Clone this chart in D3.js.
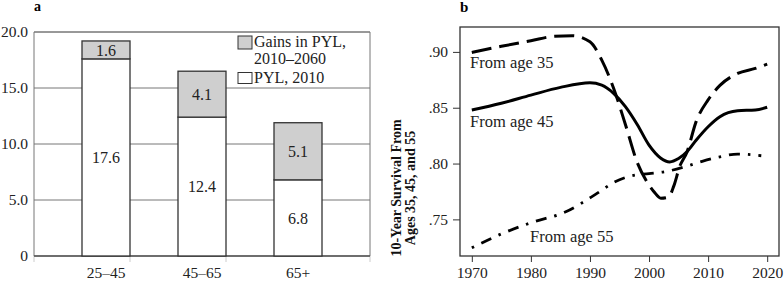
<!DOCTYPE html>
<html>
<head>
<meta charset="utf-8">
<script src="https://cdn.jsdelivr.net/npm/d3@7"></script>
<style>
  body { margin: 0; background: #fff; }
  svg { display: block; font-family: "Liberation Serif", "DejaVu Serif", serif; }
</style>
</head>
<body>
<div id="chart"></div>
<script>
(() => {
const width = 784, height = 281;

// panel a data
const categories = ["25–45", "45–65", "65+"];
const pyl2010 = [17.6, 12.4, 6.8];
const gains = [1.6, 4.1, 5.1];
const barTicks = [0, 5, 10, 15, 20];
const barTickLabels = ["0", "5.0", "10.0", "15.0", "20.0"];
const legendLabels = [["Gains in PYL,", "2010–2060"], ["PYL, 2010"]];

// panel b data
const years35 = [1970, 1975, 1980, 1984, 1987, 1990, 1992, 1994, 1996, 1998, 1999.6, 2000.8, 2002, 2003.3, 2004.2, 2005.2, 2006.4, 2008, 2010, 2012, 2015, 2018, 2020];
const age35 = [.8995, .905, .910, .914, .9145, .909, .8926, .8675, .835, .801, .784, .775, .769, .770, .780, .7975, .810, .838, .857, .870, .8807, .8852, .889];
const years45 = [1970, 1975, 1980, 1985, 1990, 1992, 1994, 1996, 1998, 2000, 2002, 2003.5, 2005, 2006.5, 2008, 2010, 2012, 2015, 2018, 2020];
const age45 = [.848, .854, .8613, .8682, .8723, .8702, .8629, .851, .835, .8165, .8048, .8015, .8045, .811, .8211, .833, .842, .8473, .848, .8504];
const years55 = [1970, 1975, 1980, 1986, 1991, 1994, 1997, 2000, 2003, 2006, 2009, 2012, 2015, 2019];
const age55 = [.7245, .737, .747, .757, .7726, .783, .789, .791, .793, .797, .802, .806, .8085, .807];
const yearTicks = [1970, 1980, 1990, 2000, 2010, 2020];
const survTicks = [.75, .80, .85, .90];
const lineLabels = ["From age 35", "From age 45", "From age 55"];

const svg = d3.select("#chart").append("svg")
    .attr("width", width).attr("height", height);

// ---------- panel a ----------
const ma = {left: 34, right: 370, top: 32, bottom: 256};
const xa = d3.scaleBand().domain(categories).range([ma.left, ma.right]).padding(0.5);
const ya = d3.scaleLinear().domain([0, 20]).range([ma.bottom, ma.top]);

svg.append("text").attr("x", 34).attr("y", 11)
    .attr("font-weight", "bold").attr("font-size", 14).text("a");

// gridlines
svg.append("g").selectAll("line").data(barTicks).join("line")
    .attr("x1", ma.left).attr("x2", ma.right)
    .attr("y1", d => ya(d)).attr("y2", d => ya(d))
    .attr("stroke", "#777").attr("stroke-width", 1);

// frame
svg.append("path")
    .attr("d", `M${ma.left},${ma.bottom}V${ma.top}H${ma.right}V${ma.bottom}`)
    .attr("fill", "none").attr("stroke", "#777");

// faint ticks at band boundaries
const bounds = [ma.left, ma.left + xa.step(), ma.left + 2 * xa.step(), ma.right];
svg.append("g").selectAll("line").data(bounds).join("line")
    .attr("x1", d => d).attr("x2", d => d)
    .attr("y1", ma.bottom).attr("y2", ma.bottom + 6)
    .attr("stroke", "#ccc");

svg.append("line").attr("x1", ma.left).attr("x2", ma.right)
    .attr("y1", ma.bottom).attr("y2", ma.bottom)
    .attr("stroke", "#555").attr("stroke-width", 1.5);

svg.append("g").selectAll("text").data(barTicks).join("text")
    .attr("x", 28).attr("y", d => ya(d)).attr("dy", "0.33em")
    .attr("text-anchor", "end").attr("font-size", 15.5).attr("fill", "#222")
    .text((d, i) => barTickLabels[i]);

svg.append("g").selectAll("text").data(categories).join("text")
    .attr("x", d => xa(d) + xa.bandwidth() / 2).attr("y", 278)
    .attr("text-anchor", "middle").attr("font-size", 15.5).attr("fill", "#222")
    .text(d => d);

const bars = svg.append("g");
categories.forEach((c, i) => {
  const x = xa(c), w = xa.bandwidth();
  bars.append("rect").attr("x", x).attr("width", w)
      .attr("y", ya(pyl2010[i])).attr("height", ya(0) - ya(pyl2010[i]))
      .attr("fill", "#fff").attr("stroke", "#333").attr("stroke-width", 1.3);
  bars.append("rect").attr("x", x).attr("width", w)
      .attr("y", ya(pyl2010[i] + gains[i])).attr("height", ya(0) - ya(gains[i]))
      .attr("fill", "#cfcfcf").attr("stroke", "#333").attr("stroke-width", 1.3);
  bars.append("text").attr("x", x + w / 2).attr("y", ya(pyl2010[i] / 2)).attr("dy", "0.35em")
      .attr("text-anchor", "middle").attr("font-size", 16).attr("fill", "#222")
      .text(pyl2010[i].toFixed(1));
  bars.append("text").attr("x", x + w / 2).attr("y", ya(pyl2010[i] + gains[i] / 2)).attr("dy", "0.35em")
      .attr("text-anchor", "middle").attr("font-size", 16).attr("fill", "#222")
      .text(gains[i].toFixed(1));
});

// legend
const legend = svg.append("g").attr("transform", "translate(238,36)");
legend.append("rect").attr("x", 0).attr("y", 0).attr("width", 14).attr("height", 13)
    .attr("fill", "#cfcfcf").attr("stroke", "#333");
legend.append("rect").attr("x", 0).attr("y", 36.5).attr("width", 14).attr("height", 11)
    .attr("fill", "#fff").attr("stroke", "#333");
const lt = legend.append("text").attr("font-size", 16).attr("fill", "#222");
lt.append("tspan").attr("x", 16).attr("y", 11).text(legendLabels[0][0]);
lt.append("tspan").attr("x", 16).attr("y", 28).text(legendLabels[0][1]);
legend.append("text").attr("font-size", 16).attr("fill", "#222")
    .attr("x", 16).attr("y", 46.5).text(legendLabels[1][0]);

// ---------- panel b ----------
const mb = {left: 460, right: 779, top: 27, bottom: 256};
const xb = d3.scaleLinear().domain([1968, 2022]).range([mb.left, mb.right]);
const yb = d3.scaleLinear().domain([.7172, .9223]).range([mb.bottom, mb.top]);

svg.append("text").attr("x", 460).attr("y", 12)
    .attr("font-weight", "bold").attr("font-size", 15).text("b");

svg.append("rect").attr("x", mb.left).attr("y", mb.top)
    .attr("width", mb.right - mb.left).attr("height", mb.bottom - mb.top)
    .attr("fill", "none").attr("stroke", "#333").attr("stroke-width", 1.3);

svg.append("g").attr("transform", `translate(0,${mb.bottom})`)
    .call(d3.axisBottom(xb).tickValues(yearTicks).tickFormat(d3.format("d")).tickSize(6).tickPadding(5))
    .call(g => g.select(".domain").remove())
    .call(g => g.selectAll("line").attr("stroke", "#333"))
    .call(g => g.selectAll("text").attr("font-family", "Liberation Serif").attr("font-size", 15.5).attr("fill", "#222"));

svg.append("g").attr("transform", `translate(${mb.left},0)`)
    .call(d3.axisLeft(yb).tickValues(survTicks).tickFormat(d => d3.format(".2f")(d).replace(/^0/, "")).tickSize(7).tickPadding(5))
    .call(g => g.select(".domain").remove())
    .call(g => g.selectAll("line").attr("stroke", "#333"))
    .call(g => g.selectAll("text").attr("font-family", "Liberation Serif").attr("font-size", 15.5).attr("fill", "#222"));

const ytitle = svg.append("text")
    .attr("transform", "translate(401,188) rotate(-90)")
    .attr("text-anchor", "middle").attr("font-weight", "bold").attr("font-size", 14).attr("fill", "#111");
ytitle.append("tspan").attr("x", 0).attr("y", 0).text("10-Year Survival From");
ytitle.append("tspan").attr("x", 0).attr("y", 14).text("Ages 35, 45, and 55");

const line = d3.line().x(d => xb(d[0])).y(d => yb(d[1])).curve(d3.curveMonotoneX);

svg.append("path").datum(d3.zip(years35, age35)).attr("d", line)
    .attr("fill", "none").attr("stroke", "#000").attr("stroke-width", 3)
    .attr("stroke-dasharray", "20,8");
svg.append("path").datum(d3.zip(years45, age45)).attr("d", line)
    .attr("fill", "none").attr("stroke", "#000").attr("stroke-width", 3);
svg.append("path").datum(d3.zip(years55, age55)).attr("d", line)
    .attr("fill", "none").attr("stroke", "#000").attr("stroke-width", 2.8)
    .attr("stroke-dasharray", "2.5,8,11,8");

const labelPos = [[470, 68], [470, 127], [530, 242]];
svg.append("g").selectAll("text").data(lineLabels).join("text")
    .attr("x", (d, i) => labelPos[i][0]).attr("y", (d, i) => labelPos[i][1])
    .attr("font-size", 16.5).attr("fill", "#222").text(d => d);
})();
</script>
</body>
</html>
